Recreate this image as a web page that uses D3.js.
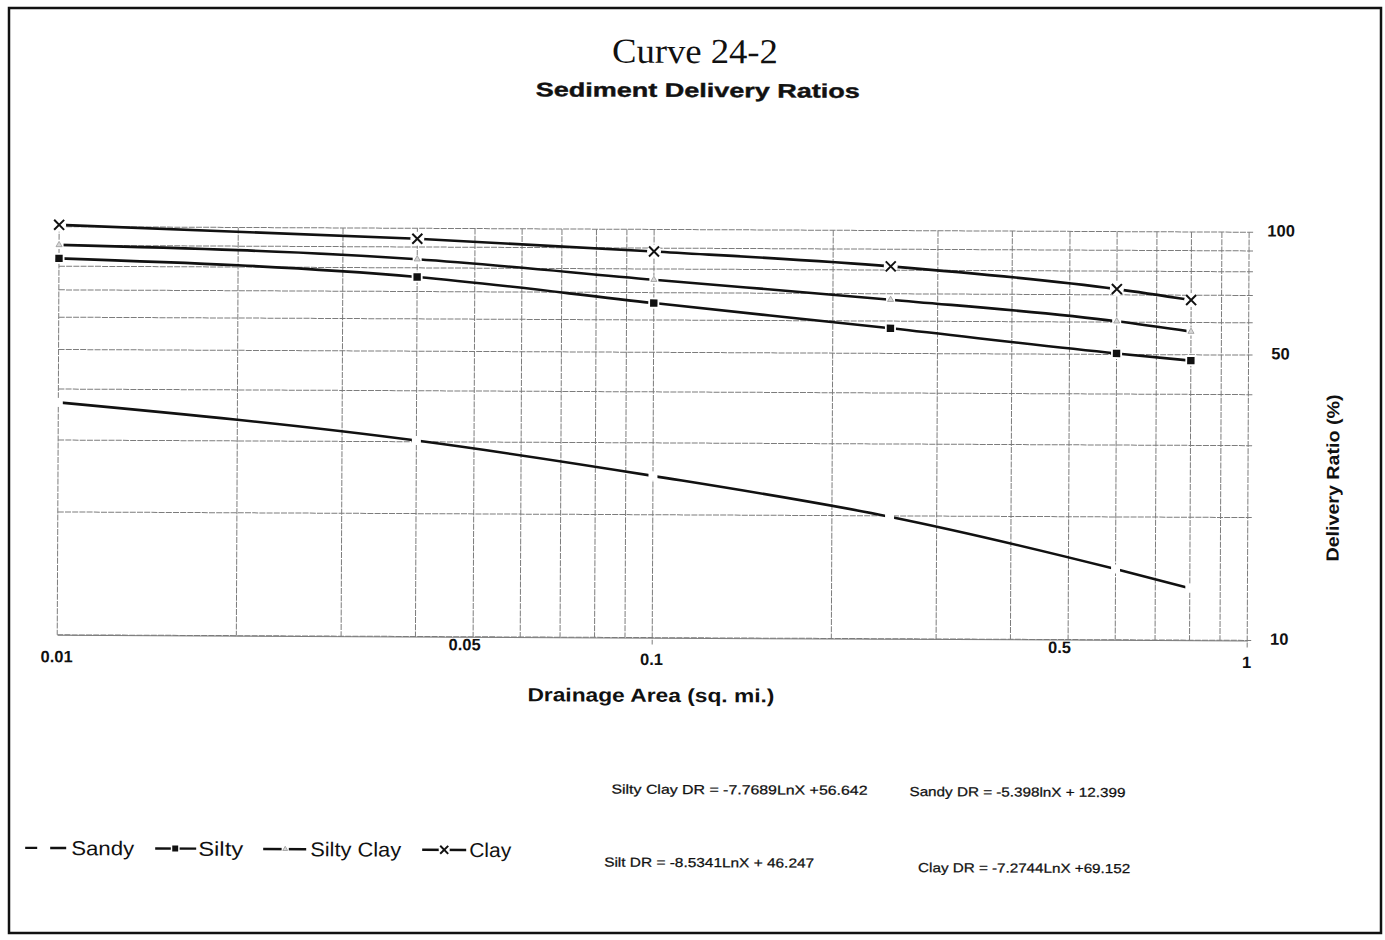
<!DOCTYPE html>
<html><head><meta charset="utf-8">
<script src="https://cdn.jsdelivr.net/npm/d3@7"></script>
<style>html,body{margin:0;padding:0;background:#fff}</style>
</head><body><svg id="c" width="1385" height="940"></svg>
<script>
// ---- data ----
const areas     = [0.01, 0.04, 0.1, 0.25, 0.6, 0.8];
const sandy     = [37.1, 30.2, 24.9, 19.9, 14.9, 13.4];
const silty     = [83.6, 76.0, 66.0, 57.6, 50.3, 48.4];
const siltyClay = [90.2, 84.0, 75.3, 67.7, 60.3, 57.0];
const clay      = [101.0, 94.3, 88.3, 81.7, 72.3, 68.1];
const seriesNames = ["Sandy", "Silty", "Silty Clay", "Clay"];
const xTickLabels = [0.01, 0.05, 0.1, 0.5, 1];
const xTickUpper  = [0.05, 0.5];
const yTickLabels = [10, 50, 100];
const xGridValues = [0.01,0.02,0.03,0.04,0.05,0.06,0.07,0.08,0.09,0.1,0.2,0.3,0.4,0.5,0.6,0.7,0.8,0.9,1];
const yGridValues = [10,20,30,40,50,60,70,80,90,100];
const equations = [
  "Silty Clay DR = -7.7689LnX +56.642",
  "Sandy DR = -5.398lnX + 12.399",
  "Silt DR = -8.5341LnX + 46.247",
  "Clay DR = -7.2744LnX +69.152"
];
const titleText = "Curve 24-2";
const subtitleText = "Sediment Delivery Ratios";
const xTitle = "Drainage Area (sq. mi.)";
const yTitle = "Delivery Ratio (%)";

// ---- drawing ----
const svg = d3.select("#c");
svg.append("rect").attr("width",1385).attr("height",940).attr("fill","#fff");
svg.append("rect").attr("x",9).attr("y",8).attr("width",1372).attr("height",925)
  .attr("fill","none").attr("stroke","#111").attr("stroke-width",2.5);

const g = svg.append("g").attr("transform","rotate(0.27,692,470)");
const SANS = "'Liberation Sans', Arial, sans-serif";
const SERIF = "'Liberation Serif', 'Times New Roman', serif";

const x = d3.scaleLog().domain([0.01, 1]).range([58, 1248]);
const y = d3.scaleLog().domain([10, 100]).range([637.8, 229.6]);

// grid
const grid = g.append("g").attr("stroke","#7c7c7c").attr("stroke-width",1).attr("stroke-dasharray","6,1.2");
grid.selectAll("line.h").data(yGridValues).join("line").attr("class","h")
  .attr("x1", x(0.01)).attr("x2", x(1) + 5)
  .attr("y1", d => y(d)).attr("y2", d => y(d));
grid.selectAll("line.v").data(xGridValues).join("line").attr("class","v")
  .attr("x1", d => x(d)).attr("x2", d => x(d))
  .attr("y1", y(100)).attr("y2", d => (d === 0.1 || d === 1) ? y(10) + 7 : y(10));

// x axis labels
const xAxis = g.append("g").attr("transform", `translate(0,${y(10)})`)
  .call(d3.axisBottom(x).tickValues(xTickLabels).tickSize(0).tickFormat(d => String(d)));
xAxis.select(".domain").attr("stroke","#7c7c7c");
xAxis.selectAll("text")
  .attr("font-family", SANS).attr("font-size", 16.5).attr("font-weight","bold").attr("fill","#111")
  .attr("dy", 0)
  .attr("y", d => xTickUpper.includes(d) ? 13.5 : 27.5)
  .attr("dx", d => xTickUpper.includes(d) ? -9 : -1);

// y axis labels (right)
const yAxis = g.append("g").attr("transform", `translate(${x(1)},0)`)
  .call(d3.axisRight(y).tickValues(yTickLabels).tickSize(0).tickFormat(d => String(d)));
yAxis.select(".domain").remove();
yAxis.selectAll("text")
  .attr("font-family", SANS).attr("font-size", 16.5).attr("font-weight","bold").attr("fill","#111")
  .attr("text-anchor","middle").attr("x", 32).attr("dy", "0.22em");

// series
const series = [
  {name: seriesNames[0], vals: sandy,     marker: "none"},
  {name: seriesNames[1], vals: silty,     marker: "square"},
  {name: seriesNames[2], vals: siltyClay, marker: "triangle"},
  {name: seriesNames[3], vals: clay,      marker: "x"}
];
const line = d3.line().x(d => x(d[0])).y(d => y(d[1])).curve(d3.curveMonotoneX);
series.forEach(s => {
  const pts = areas.map((a, i) => [a, s.vals[i]]);
  g.append("path").datum(pts).attr("d", line)
    .attr("fill","none").attr("stroke","#111").attr("stroke-width",2.6);
});

function drawMarker(sel, type, cx, cy, scale) {
  const k = scale || 1;
  if (type === "none") {
    sel.append("rect").attr("x",cx-4.5*k).attr("y",cy-4.5*k).attr("width",9*k).attr("height",9*k).attr("fill","#fff");
  } else if (type === "square") {
    sel.append("rect").attr("x",cx-5.5*k).attr("y",cy-5.5*k).attr("width",11*k).attr("height",11*k).attr("fill","#fff");
    sel.append("rect").attr("x",cx-3.7*k).attr("y",cy-3.7*k).attr("width",7.4*k).attr("height",7.4*k).attr("fill","#111");
  } else if (type === "triangle") {
    sel.append("rect").attr("x",cx-4.5*k).attr("y",cy-4*k).attr("width",9*k).attr("height",8*k).attr("fill","#fff");
    sel.append("path").attr("d", d3.symbol(d3.symbolTriangle, 16*k*k)())
      .attr("transform", `translate(${cx},${cy})`)
      .attr("fill","#d8d8d8").attr("stroke","#999").attr("stroke-width",0.8);
  } else if (type === "x") {
    sel.append("circle").attr("cx",cx).attr("cy",cy).attr("r",7*k).attr("fill","#fff");
    const r = 5*k;
    sel.append("path").attr("d", `M${cx-r},${cy-r}L${cx+r},${cy+r}M${cx-r},${cy+r}L${cx+r},${cy-r}`)
      .attr("stroke","#111").attr("stroke-width",2).attr("fill","none");
  }
}
series.forEach(s => {
  const mg = g.append("g");
  areas.forEach((a, i) => drawMarker(mg, s.marker, x(a), y(s.vals[i])));
});

// titles
g.append("text").attr("x",693).attr("y",63).attr("text-anchor","middle")
  .attr("font-family",SERIF).attr("font-size",35).attr("fill","#111")
  .attr("textLength",166).attr("lengthAdjust","spacingAndGlyphs").text(titleText);
g.append("text").attr("x",696).attr("y",97).attr("text-anchor","middle")
  .attr("font-family",SANS).attr("font-size",19.5).attr("font-weight","bold").attr("fill","#111")
  .attr("stroke","#111").attr("stroke-width",0.4)
  .attr("textLength",324).attr("lengthAdjust","spacingAndGlyphs").text(subtitleText);
g.append("text").attr("x",652).attr("y",702).attr("text-anchor","middle")
  .attr("font-family",SANS).attr("font-size",19).attr("font-weight","bold").attr("fill","#111")
  .attr("textLength",247).attr("lengthAdjust","spacingAndGlyphs").text(xTitle);
g.append("text").attr("transform","translate(1339,475) rotate(-90)").attr("text-anchor","middle")
  .attr("font-family",SANS).attr("font-size",17.5).attr("font-weight","bold").attr("fill","#111")
  .attr("textLength",167).attr("lengthAdjust","spacingAndGlyphs").text(yTitle);

// legend
const legY = 851;
const leg = g.append("g");
const legendItems = [
  {seg: [[27,39],[52,68]], m: null, mx: 0, tx: 73, tl: 63},
  {seg: [[157,198]], m: "square", mx: 177, tx: 200, tl: 45},
  {seg: [[265,308]], m: "triangle", mx: 287, tx: 312, tl: 91},
  {seg: [[424,468]], m: "x", mx: 446, tx: 471, tl: 42}
];
legendItems.forEach((it, i) => {
  it.seg.forEach(sg => leg.append("line").attr("x1",sg[0]).attr("x2",sg[1]).attr("y1",legY).attr("y2",legY)
    .attr("stroke","#111").attr("stroke-width",2.4));
  if (it.m) drawMarker(leg, it.m, it.mx, legY, 0.8);
  leg.append("text").attr("x",it.tx).attr("y",legY+7).attr("font-family",SANS).attr("font-size",20)
    .attr("fill","#111").attr("textLength",it.tl).attr("lengthAdjust","spacingAndGlyphs").text(seriesNames[i]);
});

// equations
const eqPos = [[613,794,256],[911,795,216],[606,867,210],[920,871,212]];
equations.forEach((t, i) => {
  g.append("text").attr("x",eqPos[i][0]).attr("y",eqPos[i][1])
    .attr("font-family",SANS).attr("font-size",13).attr("fill","#111")
    .attr("stroke","#111").attr("stroke-width",0.25)
    .attr("textLength",eqPos[i][2]).attr("lengthAdjust","spacingAndGlyphs").text(t);
});
</script></body></html>
